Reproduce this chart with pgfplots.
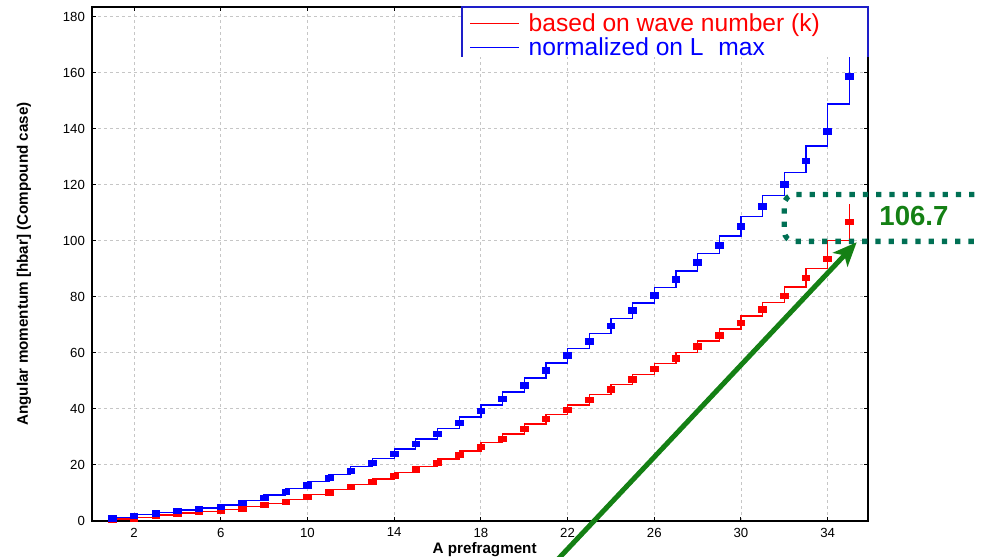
\documentclass[border=0pt]{standalone}
\usepackage{pgfplots}
\pgfplotsset{compat=1.18}
\usepackage{fontspec}
\setmainfont{Liberation Sans}
\usetikzlibrary{arrows.meta}
\definecolor{annogreen}{RGB}{20,128,20}
\definecolor{dotgreen}{RGB}{0,112,84}
\definecolor{legblue}{RGB}{30,30,200}
\definecolor{sred}{RGB}{255,0,0}
\definecolor{sblue}{RGB}{0,0,255}
\begin{document}
\begin{tikzpicture}
\begin{axis}[
  scale only axis, width=388pt, height=256.9pt,
  xmin=0.06, xmax=35.86, ymin=0, ymax=183.5,
  xtick={2,6,...,34}, ytick={0,20,...,180},
  tick align=inside, tick pos=both, major tick length=2pt,
  grid=major,
  major grid style={gray!45, line width=0.4pt, dash pattern=on 1.5pt off 1.5pt},
  axis line style={line width=0.9pt},
  tick style={black, line width=0.5pt},
  tick label style={font=\fontsize{6.6}{8}\selectfont},
  /pgf/number format/assume math mode=true,
  xlabel={A prefragment},
  ylabel={Angular momentum [hbar] (Compound case)},
  label style={font=\bfseries\fontsize{7.6}{9}\selectfont},
  xlabel style={at={(axis description cs:0.506,0)}, anchor=center, yshift=-14.5pt},
  ylabel style={at={(axis description cs:-0.0876,0.5)}, anchor=center},
  clip=false,
  legend style={at={(rel axis cs:0.4858,1)}, anchor=north west, yshift=-3.4pt,
    draw=none, fill=none, inner sep=0pt, font=\fontsize{12.3}{13}\selectfont,
    nodes={inner sep=0pt, text height=8.8pt, text depth=2.6pt},
    row sep=0.6pt, column sep=4.5pt},
  legend cell align=left,
  legend image code/.code={\draw[#1, line width=0.65pt] (0pt,1pt) -- (24.5pt,1pt);},
]
% red step line (levels between successive values)
\addplot[draw=sred, line width=0.65pt, const plot, mark=none, forget plot] coordinates {
(1,0.15) (1,0.65) (2,1.3) (3,2.1) (4,2.8) (5,3.4) (6,4.05) (7,5.0) (8,6.2) (9,7.65)
(10,9.3) (11,11.1) (12,12.95) (13,14.95) (14,17.2) (15,19.5) (16,22.1) (17,24.95)
(18,27.85) (19,31.05) (20,34.55) (21,38.0) (22,41.4) (23,45.0) (24,48.7) (25,52.35)
(26,56.1) (27,60.15) (28,64.25) (29,68.45) (30,73.1) (31,77.95) (32,83.55) (33,90.15)
(34,100.15) (35,113.25)};
% blue step line
\addplot[draw=sblue, line width=0.65pt, const plot, mark=none, forget plot] coordinates {
(1,0.3) (1,1.3) (2,2.2) (3,3.05) (4,3.85) (5,4.6) (6,5.65) (7,7.2) (8,9.2) (9,11.5)
(10,14.0) (11,16.6) (12,19.3) (13,22.3) (14,25.65) (15,29.25) (16,33.0) (17,37.05)
(18,41.4) (19,46.0) (20,51.05) (21,56.35) (22,61.55) (23,66.85) (24,72.35) (25,77.8)
(26,83.35) (27,89.25) (28,95.35) (29,101.75) (30,108.7) (31,116.2) (32,124.35)
(33,133.85) (34,148.9) (35,168.5)};
% red markers
\addplot[only marks, sred, mark=square*, mark size=1.9pt, mark options={yscale=0.72, draw=sred, fill=sred}, forget plot] coordinates {
(1,0.4) (2,0.9) (3,1.7) (4,2.5) (5,3.1) (6,3.7) (7,4.4) (8,5.6) (9,6.8) (10,8.5)
(11,10.1) (12,12.1) (13,13.8) (14,16.1) (15,18.3) (16,20.7) (17,23.5) (18,26.4)
(19,29.3) (20,32.8) (21,36.3) (22,39.7) (23,43.1) (24,46.9) (25,50.5) (26,54.2)
(27,58.0) (28,62.3) (29,66.2) (30,70.7) (31,75.5) (32,80.4) (33,86.7) (34,93.6) (35,106.7)};
% blue markers
\addplot[only marks, sblue, mark=square*, mark size=1.9pt, mark options={yscale=0.72, draw=sblue, fill=sblue}, forget plot] coordinates {
(1,0.8) (2,1.8) (3,2.6) (4,3.5) (5,4.2) (6,5.0) (7,6.3) (8,8.1) (9,10.3) (10,12.7)
(11,15.3) (12,17.9) (13,20.7) (14,23.9) (15,27.4) (16,31.1) (17,34.9) (18,39.2)
(19,43.6) (20,48.4) (21,53.7) (22,59.0) (23,64.1) (24,69.6) (25,75.1) (26,80.5)
(27,86.2) (28,92.3) (29,98.4) (30,105.1) (31,112.3) (32,120.1) (33,128.6) (34,139.1) (35,158.7)};
\addlegendimage{draw=sred}
\addlegendentry{\textcolor{sred}{based on wave number (k)}}
\addlegendimage{draw=sblue}
\addlegendentry{\textcolor{sblue}{normalized on L\hspace{0.6em}max}}
% legend box
\fill[white] (rel axis cs:0.4768,0.9027) rectangle (rel axis cs:1,1);
\draw[legblue, line width=0.6pt] (rel axis cs:0.4768,0.9027) -- (rel axis cs:0.4768,1) -- (rel axis cs:1,1) -- (rel axis cs:1,0.9027);
% annotation
\draw[dotgreen, line width=2.65pt, dash pattern=on 2.65pt off 4pt, rounded corners=5pt]
  (axis cs:42,116.5) -- (axis cs:32,116.5) -- (axis cs:32,99.8) -- (axis cs:42,99.8);
\node[annogreen, font=\bfseries\fontsize{13.8}{15}\selectfont] at (axis cs:37.98,108.9) {106.7};
\draw[annogreen, line width=2.5pt, -{Stealth[length=12pt,width=10pt,inset=3pt]}]
  (axis cs:21.28,-16) -- (axis cs:35.34,99.5);
\end{axis}
\pgfresetboundingbox
\path ([xshift=-46pt,yshift=-18pt]current axis.south west) rectangle ([xshift=56.5pt,yshift=3.5pt]current axis.north east);
\end{tikzpicture}
\end{document}
